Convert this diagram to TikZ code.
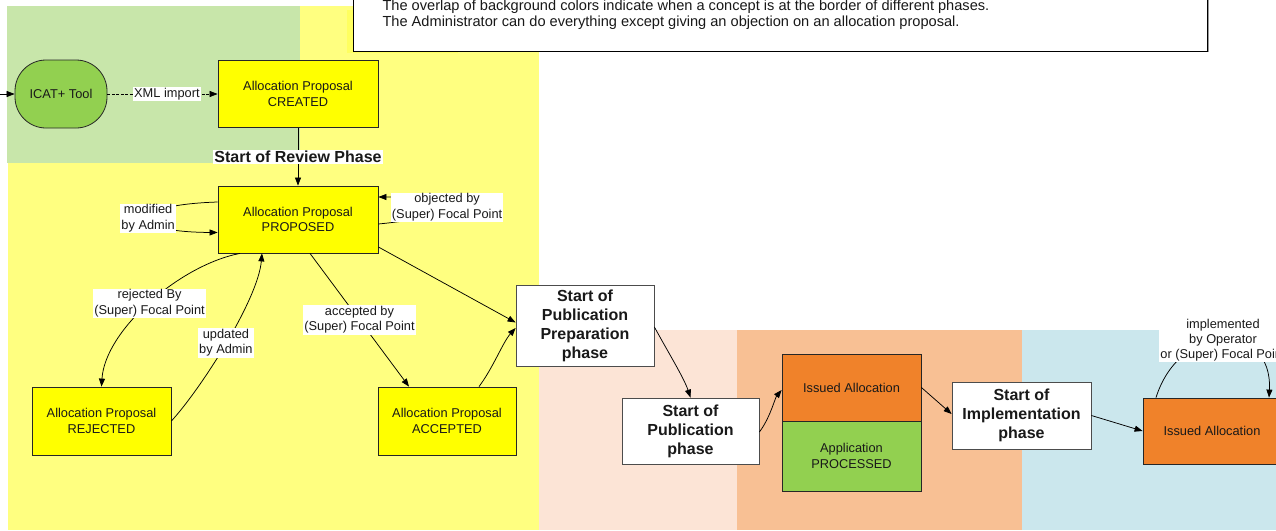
\documentclass[tikz,border=0pt]{standalone}
\usepackage{fontspec}
\setmainfont{Liberation Sans}
\usetikzlibrary{arrows.meta}
\definecolor{bggreen}{HTML}{C8E6AA}
\definecolor{bgyellow}{HTML}{FFFF80}
\definecolor{bgyellowb}{HTML}{FFFF60}
\definecolor{bgpeach}{HTML}{FCE4D6}
\definecolor{bgorange}{HTML}{F8C094}
\definecolor{bgblue}{HTML}{CBE7ED}
\definecolor{boxyellow}{HTML}{FFFF00}
\definecolor{boxgreen}{HTML}{92D050}
\definecolor{boxorange}{HTML}{F0822A}
\begin{document}
\begin{tikzpicture}[x=1pt,y=-1pt,
  every node/.style={font=\fontsize{12.8}{15.2}\selectfont, text=black!90},
  state/.style={draw=black!85, line width=0.8pt, align=center, inner sep=0pt},
  phasebox/.style={draw=black!70, fill=white, line width=0.8pt, align=center, inner sep=0pt, font=\bfseries\fontsize{16}{19}\selectfont},
  lab/.style={fill=white, inner sep=1pt, align=center},
  conn/.style={line width=0.75pt, -{Triangle[length=8pt,width=6pt]}},
  notetext/.style={anchor=base west, font=\fontsize{14.6}{17}\selectfont}
]
\useasboundingbox (0,0) rectangle (1276,530);
\clip (0,0) rectangle (1276,530);
% backgrounds
\fill[bgyellow] (8,6) rectangle (539,530);
\fill[bggreen] (7,6) rectangle (300,163);
\fill[bgyellowb] (347,10) rectangle (458,53);
\fill[bgpeach] (539,330) rectangle (737,530);
\fill[bgorange] (737,330) rectangle (1022,530);
\fill[bgblue] (1022,330) rectangle (1276,530);
% note
\draw[gray!80, line width=1.2pt] (1208.5,-20) -- (1208.5,52);
\draw[fill=white, line width=0.9pt] (353,-20) rectangle (1207,51);
\node[notetext] (note1) at (379,10) {The overlap of background colors indicate when a concept is at the border of different phases.};
\node[notetext] (note2) at (379,27) {The Administrator can do everything except giving an objection on an allocation proposal.};
% nodes
\node[state, fill=boxgreen, rounded corners=31pt, minimum width=92pt, minimum height=68pt] (icat) at (61,94) {ICAT+ Tool};
\node[state, fill=boxyellow, minimum width=160pt, minimum height=67pt] (created) at (298,94) {Allocation Proposal\\CREATED};
\node[state, fill=boxyellow, minimum width=160pt, minimum height=67pt] (proposed) at (298,219.5) {Allocation Proposal\\PROPOSED};
\node[state, fill=boxyellow, minimum width=139pt, minimum height=68pt] (rejected) at (101.5,421) {Allocation Proposal\\REJECTED};
\node[state, fill=boxyellow, minimum width=138pt, minimum height=68pt] (accepted) at (447,421) {Allocation Proposal\\ACCEPTED};
\node[phasebox, minimum width=138pt, minimum height=81pt] (pubprep) at (585,325.5) {Start of\\Publication\\Preparation\\phase};
\node[phasebox, minimum width=137pt, minimum height=66pt] (pub) at (690.5,431) {Start of\\Publication\\phase};
\node[state, fill=boxorange, minimum width=139pt, minimum height=67pt] (ia) at (851.5,387.5) {Issued Allocation};
\node[state, fill=boxgreen, minimum width=139pt, minimum height=70pt] (app) at (851.5,456) {Application\\PROCESSED};
\node[phasebox, minimum width=139pt, minimum height=67pt] (impl) at (1021.5,415.5) {Start of\\Implementation\\phase};
\node[state, fill=boxorange, minimum width=138pt, minimum height=66pt] (ia2) at (1212,431) {Issued Allocation};
% connectors
\coordinate (inpt) at (-6,94);
\draw[conn] (inpt) -- (icat);
\draw[conn, dash pattern=on 3pt off 1.5pt] (icat) -- node[lab, pos=0.54]{XML import} (created);
\draw[conn] (created) -- node[lab, font=\bfseries\fontsize{16}{19}\selectfont]{Start of Review Phase} (proposed);
\draw[conn] ([yshift=17.5pt]proposed.west) .. controls (125,205) and (125,232) .. node[lab]{modified\\by Admin} ([yshift=-13pt]proposed.west);
\draw[conn] ([yshift=-4.5pt]proposed.east) .. controls (470,215) and (470,197) .. node[lab]{objected by\\(Super) Focal Point} ([yshift=22.5pt]proposed.east);
\draw[conn] ([xshift=-58pt]proposed.south) .. controls (180,265) and (105,330) .. node[lab]{rejected By\\(Super) Focal Point} (rejected.north);
\draw[conn] (rejected.east) .. controls (200,390) and (258,300) .. node[lab]{updated\\by Admin} ([xshift=-36pt]proposed.south);
\draw[conn] ([xshift=12pt]proposed.south) -- node[lab]{accepted by\\(Super) Focal Point} ([xshift=-38pt]accepted.north);
\draw[conn] ([yshift=-27.5pt]proposed.east) -- ([yshift=3pt]pubprep.west);
\draw[conn] ([xshift=32pt]accepted.north) .. controls (493,368) and (503,342) .. ([yshift=-2.5pt]pubprep.west);
\draw[conn] ([yshift=-1.5pt]pubprep.east) .. controls (668,352) and (684,378) .. (pub.north);
\draw[conn] ([yshift=-1pt]pub.east) .. controls (770,418) and (775,398) .. ([yshift=-2.5pt]ia.west);
\draw[conn] (ia.east) -- ([yshift=1.5pt]impl.west);
\draw[conn] (impl.east) -- (ia2.west);
\draw[conn] ([xshift=-56pt]ia2.north) .. controls (1180,321) and (1273,321) .. node[lab]{implemented\\by Operator\\or (Super) Focal Point} ([xshift=57pt]ia2.north);
\end{tikzpicture}
\end{document}
